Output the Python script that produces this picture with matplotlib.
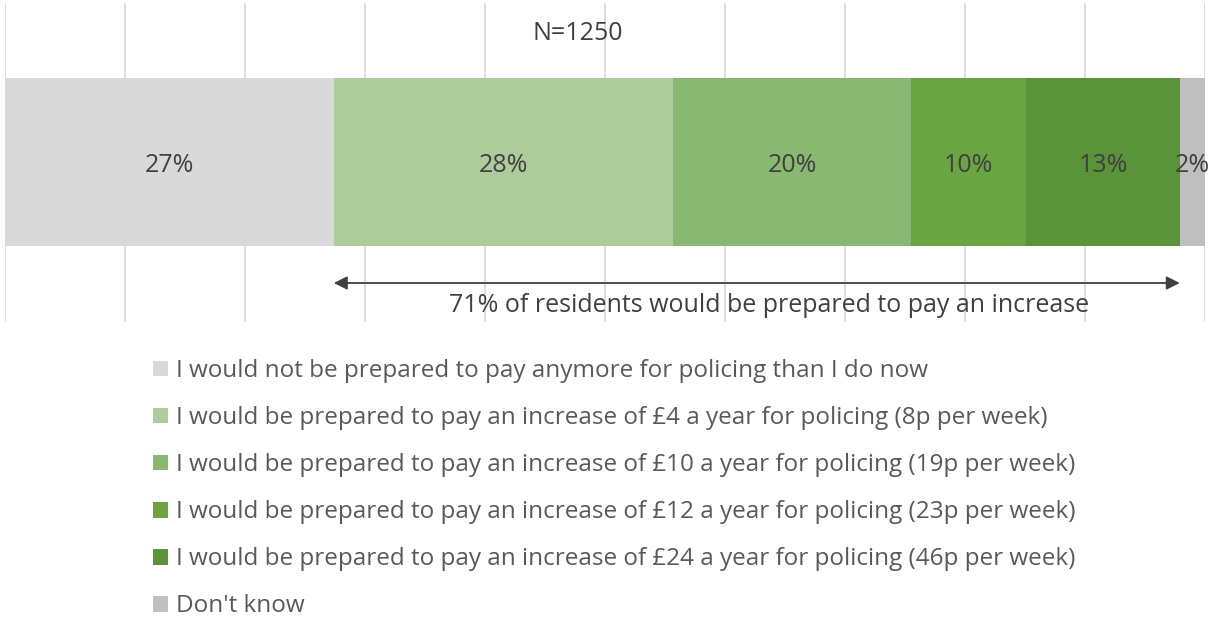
import matplotlib
matplotlib.use('Agg')
import matplotlib.pyplot as plt
import numpy as np

plt.rcParams['font.family'] = ['Open Sans', 'DejaVu Sans']

# data (percent of residents, N=1250)
categories = [
    "I would not be prepared to pay anymore for policing than I do now",
    "I would be prepared to pay an increase of £4 a year for policing (8p per week)",
    "I would be prepared to pay an increase of £10 a year for policing (19p per week)",
    "I would be prepared to pay an increase of £12 a year for policing (23p per week)",
    "I would be prepared to pay an increase of £24 a year for policing (46p per week)",
    "Don't know",
]
shares = [27.4, 28.3, 19.8, 9.6, 12.8, 2.1]
share_labels = ["27%", "28%", "20%", "10%", "13%", "2%"]
colors = ['#d9d9d9', '#aecb9c', '#88b872', '#6aa443', '#5b933a', '#bfbfbf']
title = "N=1250"
arrow_text = "71% of residents would be prepared to pay an increase"

fig = plt.figure(figsize=(12.15, 6.2), dpi=100)
ax = fig.add_axes([5 / 1215, (620 - 322) / 620, 1200 / 1215, 319 / 620])

bar_y = (322 - 162) / 319
bar_h = 168 / 319
nudge = 3 / 319  # text sits a little lower than its box centre
left = 0
for val, lab, col, name in zip(shares, share_labels, colors, categories):
    ax.barh(bar_y, val, left=left, height=bar_h, color=col, label=name, zorder=2)
    ax.text(left + val / 2, bar_y - nudge, lab, ha='center', va='center',
            fontsize=18, color='#404040', zorder=3)
    left += val

ax.set_xlim(0, 100)
ax.set_ylim(0, 1)
ax.set_xticks(np.arange(0, 101, 10))
ax.xaxis.grid(True, color='#d9d9d9', linewidth=1.2, zorder=0)
ax.set_axisbelow(True)
ax.tick_params(length=0, labelbottom=False, labelleft=False)
ax.set_yticks([])
for s in ax.spines.values():
    s.set_visible(False)

# arrow over the "prepared to pay" segments
start = shares[0]
end = sum(shares[:5])
arrow_y = (322 - 283) / 319
ax.annotate('', xy=(end, arrow_y), xytext=(start, arrow_y),
            arrowprops=dict(arrowstyle='<|-|>', color='#404040', lw=1.3,
                            mutation_scale=20, shrinkA=0, shrinkB=0), zorder=4)
ax.text((start + end) / 2 + 1, (322 - 305) / 319, arrow_text, ha='center', va='center',
        fontsize=18, color='#404040', zorder=4)

fig.text(578 / 1215, 1 - 33 / 620, title, ha='center', va='center',
         fontsize=18, color='#404040')

leg = fig.legend(loc='upper left', bbox_to_anchor=(153 / 1215, 1 - 359 / 620),
                 frameon=False, fontsize=17.5, labelcolor='#595959',
                 handlelength=0.62, handleheight=0.62, handletextpad=0.33,
                 labelspacing=0.95, borderaxespad=0, borderpad=0)

fig.savefig('out.png', dpi=100)
